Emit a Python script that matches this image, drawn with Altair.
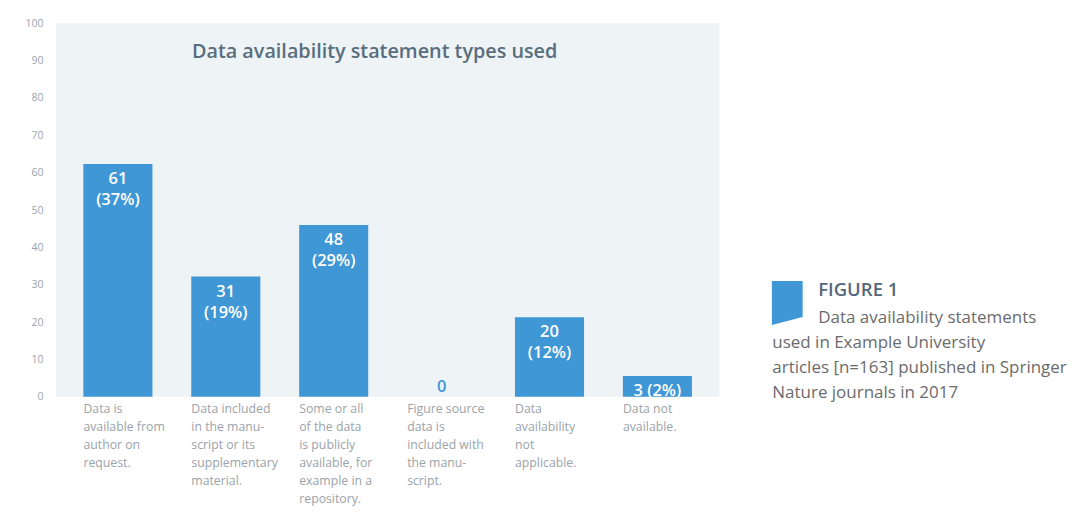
import altair as alt
import pandas as pd

# Data
categories = [
    "Data is available from author on request.",
    "Data included in the manuscript or its supplementary material.",
    "Some or all of the data is publicly available, for example in a repository.",
    "Figure source data is included with the manuscript.",
    "Data availability not applicable.",
    "Data not available.",
]
counts = [61, 31, 48, 0, 20, 3]
percents = ["37%", "19%", "29%", "0%", "12%", "2%"]
# bar heights as drawn in the picture (axis units)
drawn_heights = [62.3, 32.2, 46.0, 0, 21.3, 5.6]
label_lines = [
    ["61", "(37%)"],
    ["31", "(19%)"],
    ["48", "(29%)"],
    ["0"],
    ["20", "(12%)"],
    ["3 (2%)"],
]
category_lines = [
    ["Data is", "available from", "author on", "request."],
    ["Data included", "in the manu-", "script or its", "supplementary", "material."],
    ["Some or all", "of the data", "is publicly", "available, for", "example in a", "repository."],
    ["Figure source", "data is", "included with", "the manu-", "script."],
    ["Data", "availability", "not", "applicable."],
    ["Data not", "available."],
]
y_ticks = [0, 10, 20, 30, 40, 50, 60, 70, 80, 90, 100]

title_text = "Data availability statement types used"
fig_label = "FIGURE 1"
caption_first = "Data availability statements"
caption_rest = [
    "used in Example University",
    "articles [n=163] published in Springer",
    "Nature journals in 2017",
]

FONT = "Open Sans"
BLUE = "#3f97d5"
W, H = 664, 374

df = pd.DataFrame({
    "cat": categories,
    "count": counts,
    "height": drawn_heights,
    "label": label_lines,
    "catlines": category_lines,
})

x = alt.X("cat:N", sort=categories,
          scale=alt.Scale(paddingInner=0.36, paddingOuter=0.254),
          axis=None)
y = alt.Y("height:Q", scale=alt.Scale(domain=[0, 100], nice=False),
          axis=alt.Axis(values=y_ticks, title=None, domain=False, ticks=False,
                        grid=False, labelPadding=13, labelFontSize=10.5,
                        labelColor="#9aa6ae", labelFont=FONT))

base = alt.Chart(df)
bars = base.mark_bar(color=BLUE).encode(x=x, y=y)

bar_labels = base.transform_filter("datum.count > 0").mark_text(
    font=FONT, fontSize=16.5, fontWeight=600, baseline="top", dy=7,
    lineHeight=21, color="white"
).encode(x=x, y=y, text="label")

zero_labels = base.transform_filter("datum.count == 0").mark_text(
    font=FONT, fontSize=16.5, fontWeight=600, baseline="bottom", dy=-2,
    color=BLUE
).encode(x=x, y=y, text="label")

cat_labels = base.mark_text(
    font=FONT, fontSize=12.3, align="left", baseline="top", dx=-34.5,
    lineHeight=18, color="#9aa3aa"
).encode(x=x, y=alt.value(H + 6), text="catlines")

title = alt.Chart(pd.DataFrame({"t": [title_text]})).mark_text(
    font=FONT, fontSize=19.8, fontWeight=600, color="#586e7e"
).encode(x=alt.value(319), y=alt.value(29), text="t")

fig = alt.Chart(pd.DataFrame({"t": [fig_label]})).mark_text(
    font=FONT, fontSize=18.5, fontWeight=600, color="#53687a", align="left"
).encode(x=alt.value(763), y=alt.value(267), text="t")

cap1 = alt.Chart(pd.DataFrame({"t": [caption_first]})).mark_text(
    font=FONT, fontSize=17, color="#6b6b6b", align="left"
).encode(x=alt.value(763), y=alt.value(295), text="t")

cap2 = alt.Chart(pd.DataFrame({"t": [caption_rest]})).mark_text(
    font=FONT, fontSize=17, color="#6b6b6b", align="left", baseline="middle",
    lineHeight=25
).encode(x=alt.value(717), y=alt.value(320), text="t")

icon = alt.Chart(pd.DataFrame({"t": ["icon"]})).mark_point(
    shape="M-0.7,-1 L0.7,-1 L0.7,0.64 L-0.7,1 Z", filled=True, opacity=1,
    size=1936, color=BLUE, strokeWidth=0
).encode(x=alt.value(732), y=alt.value(280))

chart = alt.layer(bars, bar_labels, zero_labels, cat_labels, title, fig,
                  cap1, cap2, icon).properties(
    width=W, height=H,
    autosize=alt.AutoSizeParams(type="none"),
    padding={"left": 48, "top": 15, "right": 360, "bottom": 115},
).configure_view(fill="#eef3f6", stroke=None)

chart.save("out.html", embed_options={"renderer": "svg", "actions": False})
